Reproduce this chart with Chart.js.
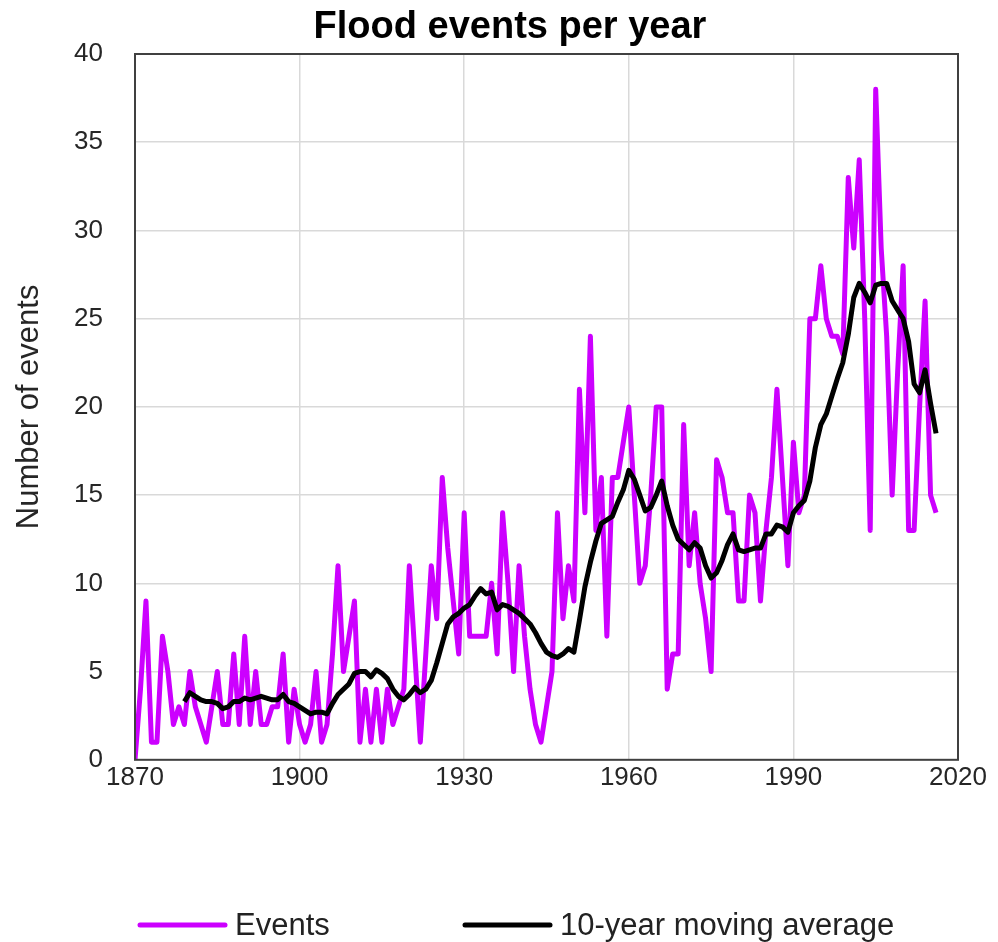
<!DOCTYPE html>
<html>
<head>
<meta charset="utf-8">
<title>Flood events per year</title>
<script src="https://cdn.jsdelivr.net/npm/chart.js@4.4.0/dist/chart.umd.min.js"></script>
<style>
  html, body { margin: 0; padding: 0; background: #fff; }
  canvas { display: block; }
</style>
</head>
<body>
<canvas id="floodChart" width="998" height="942"></canvas>
<script>
// --- Data ---
const firstYear = 1870;
const maFirstYear = 1879;

// Events per year, 1870 - 2016
const events = [
  0, 4, 9, 1, 1, 7, 5, 2, 3, 2,
  5, 3, 2, 1, 3, 5, 2, 2, 6, 2,
  7, 2, 5, 2, 2, 3, 3, 6, 1, 4,
  2, 1, 2, 5, 1, 2, 6, 11, 5, 7,
  9, 1, 4, 1, 4, 1, 4, 2, 3, 4,
  11, 6, 1, 6, 11, 8, 16, 12, 9, 6,
  14, 7, 7, 7, 7, 10, 6, 14, 10, 5,
  11, 7, 4, 2, 1, 3, 5, 14, 8, 11,
  9, 21, 14, 24, 13, 16, 7, 16, 16, 18,
  20, 15, 10, 11, 15, 20, 20, 4, 6, 6,
  19, 11, 14, 10, 8, 5, 17, 16, 14, 14,
  9, 9, 15, 14, 9, 13, 16, 21, 16, 11,
  18, 14, 15, 25, 25, 28, 25, 24, 24, 23,
  33, 29, 34, 25, 13, 38, 29, 24, 15, 22,
  28, 13, 13, 20, 26, 15, 14
];

// 10-year moving average, 1879 - 2016
const movingAvg = [
  3.3, 3.8, 3.6, 3.4, 3.3, 3.3, 3.2, 2.9, 3.0, 3.3, 3.3,
  3.5, 3.4, 3.5, 3.6, 3.5, 3.4, 3.4, 3.7, 3.3, 3.2,
  3.0, 2.8, 2.6, 2.7, 2.7, 2.6, 3.2, 3.7, 4.0, 4.3,
  4.9, 5.0, 5.0, 4.7, 5.1, 4.9, 4.6, 4.0, 3.6, 3.4,
  3.7, 4.1, 3.8, 4.0, 4.5, 5.5, 6.6, 7.7, 8.1, 8.3,
  8.6, 8.8, 9.3, 9.7, 9.4, 9.5, 8.5, 8.8, 8.7, 8.5,
  8.3, 8.0, 7.7, 7.2, 6.6, 6.1, 5.9, 5.8, 6.0, 6.3,
  6.1, 7.9, 9.8, 11.2, 12.4, 13.4, 13.6, 13.8, 14.6, 15.3,
  16.4, 15.9, 15.0, 14.1, 14.3, 15.0, 15.8, 14.4, 13.3, 12.5,
  12.2, 11.9, 12.3, 12.0, 11.0, 10.3, 10.6, 11.3, 12.2, 12.8,
  11.9, 11.8, 11.9, 12.0, 12.0, 12.8, 12.8, 13.3, 13.2, 12.9,
  14.0, 14.4, 14.7, 15.8, 17.7, 19.0, 19.6, 20.6, 21.6, 22.5,
  24.1, 26.2, 27.0, 26.5, 25.9, 26.9, 27.0, 27.0, 26.0, 25.5,
  25.0, 23.7, 21.3, 20.8, 22.1, 20.2, 18.5
];

const chartTitle = "Flood events per year";
const seriesNames = ["Events", "10-year moving average"];
const seriesColors = ["#cc00ff", "#000000"];

const xMin = 1870, xMax = 2020, xStep = 30;
const yMin = 0, yMax = 40, yStep = 5;

const FONT = "'Liberation Sans', Arial, sans-serif";

// turn a list into {x, y} points starting at a given year
const toPoints = (values, startYear) =>
  values.map((v, i) => ({ x: startYear + i, y: v }));

// --- Title (Excel puts it a bit right of the canvas centre) ---
const topTitle = {
  id: "topTitle",
  afterDraw(chart) {
    const ctx = chart.ctx;
    ctx.save();
    ctx.font = "bold 38px " + FONT;
    ctx.fillStyle = "#000";
    ctx.textAlign = "center";
    ctx.textBaseline = "alphabetic";
    ctx.fillText(chartTitle, 510, 38);
    ctx.restore();
  },
};

// --- Frame around the plot area ---
const plotBorder = {
  id: "plotBorder",
  afterDatasetsDraw(chart) {
    const { ctx, chartArea } = chart;
    ctx.save();
    ctx.strokeStyle = "#404040";
    ctx.lineWidth = 2;
    ctx.strokeRect(chartArea.left, chartArea.top,
      chartArea.right - chartArea.left, chartArea.bottom - chartArea.top);
    ctx.restore();
  },
};

// --- Legend drawn under the chart, Excel style ---
const bottomLegend = {
  id: "bottomLegend",
  afterDraw(chart) {
    const ctx = chart.ctx;
    const y = chart.height - 17;
    const starts = [140, 465];
    ctx.save();
    ctx.font = "31px " + FONT;
    ctx.textBaseline = "middle";
    chart.data.datasets.forEach((ds, i) => {
      const x = starts[i];
      ctx.strokeStyle = ds.borderColor;
      ctx.lineWidth = 5;
      ctx.lineCap = "round";
      ctx.beginPath();
      ctx.moveTo(x, y);
      ctx.lineTo(x + 85, y);
      ctx.stroke();
      ctx.fillStyle = "#222";
      ctx.fillText(ds.label, x + 95, y + 1);
    });
    ctx.restore();
  },
};

document.addEventListener("DOMContentLoaded", function () {
  const ctx = document.getElementById("floodChart");

  new Chart(ctx, {
    type: "line",
    data: {
      datasets: [
        {
          label: seriesNames[0],
          data: toPoints(events, firstYear),
          borderColor: seriesColors[0],
          backgroundColor: seriesColors[0],
          borderWidth: 5,
          borderJoinStyle: "round",
          pointRadius: 0,
          tension: 0,
          order: 2,
        },
        {
          label: seriesNames[1],
          data: toPoints(movingAvg, maFirstYear),
          borderColor: seriesColors[1],
          backgroundColor: seriesColors[1],
          borderWidth: 5,
          borderJoinStyle: "round",
          pointRadius: 0,
          tension: 0,
          order: 1,
        },
      ],
    },
    options: {
      responsive: false,
      animation: false,
      layout: {
        padding: { top: 54, left: 6, right: 40, bottom: 147 },
      },
      plugins: {
        legend: { display: false },
        tooltip: { enabled: false },
        title: { display: false },
      },
      scales: {
        x: {
          type: "linear",
          min: xMin,
          max: xMax,
          border: { display: false },
          grid: { color: "#d9d9d9", lineWidth: 1.5, drawTicks: false },
          ticks: {
            stepSize: xStep,
            padding: 2,
            color: "#262626",
            font: { family: FONT, size: 26 },
            maxRotation: 0,
            callback: (v) => String(v),
          },
        },
        y: {
          min: yMin,
          max: yMax,
          border: { display: false },
          grid: { color: "#d9d9d9", lineWidth: 1.5, drawTicks: false },
          ticks: {
            stepSize: yStep,
            padding: 32,
            color: "#262626",
            font: { family: FONT, size: 26 },
          },
          title: {
            display: true,
            text: "Number of events",
            color: "#262626",
            font: { family: FONT, size: 31 },
            padding: { top: 5, bottom: 0 },
          },
          // keep the plot's left edge where the original has it
          afterFit(scale) {
            scale.width = 129;
          },
        },
      },
    },
    plugins: [topTitle, plotBorder, bottomLegend],
  });
});
</script>
</body>
</html>
